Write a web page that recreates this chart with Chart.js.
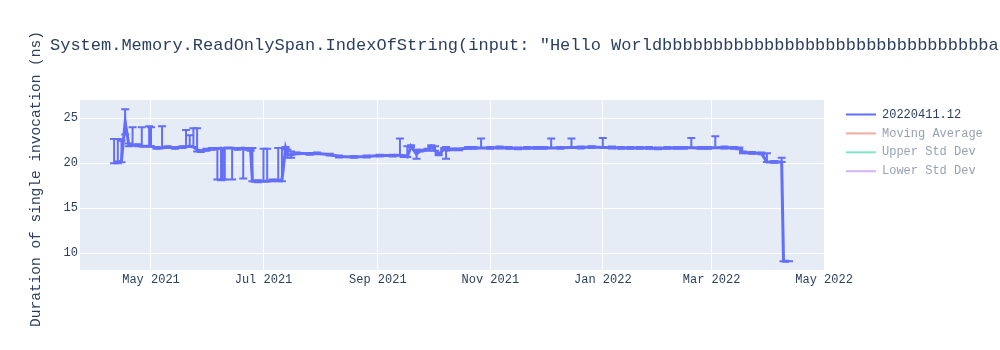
<!DOCTYPE html>
<html>
<head>
<meta charset="utf-8">
<script src="https://cdn.jsdelivr.net/npm/chart.js@4.4.1/dist/chart.umd.min.js"></script>
<style>
  html, body { margin: 0; padding: 0; background: #fff; }
  #wrap { position: relative; width: 1000px; height: 350px; overflow: hidden; }
  #title { position: absolute; left: 50px; top: 36px; height: 20px; line-height: 20px; font: 17px "Liberation Mono", monospace; color: #2a3f5f; white-space: pre; }
</style>
</head>
<body>
<div id="wrap">
  <canvas id="chart" width="1000" height="350"></canvas>
  <div id="title"></div>
</div>
<script>
// benchmark runs (build 20220411.12)
const chartTitle = 'System.Memory.ReadOnlySpan.IndexOfString(input: "Hello World' + 'b'.repeat(32) + 'a';
const yTitle = 'Duration of single invocation (ns)';
const seriesNames = ['20220411.12', 'Moving Average', 'Upper Std Dev', 'Lower Std Dev'];
const seriesColors = ['#636efa', '#EF553B', '#00cc96', '#ab63fa'];

const runDates = [
  '2021-04-11', '2021-04-13', '2021-04-15', '2021-04-17', '2021-04-19', '2021-04-21', '2021-04-24', '2021-04-26',
  '2021-04-30', '2021-05-01', '2021-05-04', '2021-05-07', '2021-05-10', '2021-05-14', '2021-05-18', '2021-05-20',
  '2021-05-22', '2021-05-24', '2021-05-26', '2021-05-28', '2021-05-31', '2021-06-03', '2021-06-06', '2021-06-08',
  '2021-06-09', '2021-06-10', '2021-06-14', '2021-06-17', '2021-06-20', '2021-06-22', '2021-06-24', '2021-06-25',
  '2021-06-28', '2021-07-01', '2021-07-03', '2021-07-06', '2021-07-09', '2021-07-11', '2021-07-13', '2021-07-14',
  '2021-07-16', '2021-07-19', '2021-07-26', '2021-07-30', '2021-08-06', '2021-08-11', '2021-08-19', '2021-08-26',
  '2021-09-02', '2021-09-09', '2021-09-13', '2021-09-15', '2021-09-17', '2021-09-19', '2021-09-22', '2021-09-24',
  '2021-09-28', '2021-09-30', '2021-10-02', '2021-10-04', '2021-10-07', '2021-10-08', '2021-10-11', '2021-10-15',
  '2021-10-20', '2021-10-23', '2021-10-27', '2021-11-01', '2021-11-06', '2021-11-11', '2021-11-16', '2021-11-21',
  '2021-11-26', '2021-11-30', '2021-12-04', '2021-12-09', '2021-12-15', '2021-12-20', '2021-12-26', '2022-01-01',
  '2022-01-06', '2022-01-11', '2022-01-16', '2022-01-21', '2022-01-26', '2022-01-31', '2022-02-05', '2022-02-10',
  '2022-02-14', '2022-02-18', '2022-02-23', '2022-02-27', '2022-03-03', '2022-03-08', '2022-03-13', '2022-03-16',
  '2022-03-18', '2022-03-23', '2022-03-28', '2022-03-31', '2022-04-04', '2022-04-08', '2022-04-09', '2022-04-12'
];
const durations = [
  20.2, 20.1, 20.3, 24.6, 22.0, 22.0, 22.0, 21.9,
  21.9, 21.9, 21.7, 21.7, 21.8, 21.7, 21.8, 21.8,
  21.9, 21.8, 21.5, 21.35, 21.5, 21.6, 21.6, 21.7,
  21.6, 21.7, 21.7, 21.6, 21.7, 21.6, 21.5, 18.0,
  18.0, 18.0, 18.0, 18.1, 18.1, 18.1, 21.7, 21.0,
  20.9, 21.1, 21.05, 21.1, 20.95, 20.75, 20.7, 20.75,
  20.85, 20.85, 20.9, 20.8, 20.7, 21.9, 21.0, 21.4,
  21.5, 21.9, 21.4, 21.0, 21.6, 21.4, 21.55, 21.55,
  21.7, 21.7, 21.7, 21.7, 21.75, 21.7, 21.65, 21.7,
  21.7, 21.72, 21.7, 21.72, 21.75, 21.75, 21.8, 21.75,
  21.75, 21.7, 21.7, 21.7, 21.7, 21.65, 21.7, 21.7,
  21.72, 21.72, 21.7, 21.7, 21.72, 21.75, 21.7, 21.65,
  21.2, 21.15, 21.1, 20.15, 20.15, 20.15, 9.1, 9.1
];
const errPlus = [
  2.5, 2.6, 2.2, 1.4, 0.2, 2.0, 0.1, 2.1,
  2.2, 2.1, 0.1, 2.4, 0.1, 0.1, 0.1, 1.9,
  1.2, 2.1, 2.4, 0.1, 0.1, 0.1, 0.1, 0.0,
  0.1, 0.0, 0.0, 0.1, 0.0, 0.1, 0.1, 3.7,
  0.1, 3.6, 3.6, 0.1, 3.6, 3.6, 0.1, 0.5,
  0.4, 0.1, 0.1, 0.1, 0.1, 0.1, 0.1, 0.1,
  0.1, 0.1, 1.85, 0.1, 1.2, 0.1, 0.5, 0.1,
  0.1, 0.1, 0.5, 0.1, 0.1, 0.4, 0.1, 0.1,
  0.1, 0.1, 1.05, 0.1, 0.1, 0.1, 0.1, 0.1,
  0.1, 0.1, 1.05, 0.1, 1.0, 0.1, 0.1, 1.05,
  0.1, 0.1, 0.1, 0.1, 0.1, 0.1, 0.1, 0.1,
  0.1, 1.08, 0.1, 0.1, 1.28, 0.1, 0.1, 0.1,
  0.1, 0.1, 0.1, 0.95, 0.1, 0.45, 0.0, 0.0
];
const errMinus = [
  0.2, 0.1, 0.2, 1.4, 0.1, 0.0, 0.1, 0.0,
  0.0, 0.0, 0.1, 0.0, 0.1, 0.1, 0.1, 0.0,
  0.0, 0.0, 0.2, 0.1, 0.1, 0.1, 3.4, 3.6,
  3.4, 3.5, 3.5, 0.1, 3.4, 0.1, 0.1, 0.0,
  0.1, 0.0, 0.0, 0.1, 0.1, 0.1, 0.1, 0.4,
  0.3, 0.1, 0.1, 0.1, 0.1, 0.1, 0.1, 0.1,
  0.1, 0.1, 0.0, 0.1, 0.0, 0.1, 0.5, 0.1,
  0.1, 0.1, 0.0, 0.1, 0.1, 0.9, 0.1, 0.1,
  0.1, 0.1, 0.0, 0.1, 0.1, 0.1, 0.1, 0.1,
  0.1, 0.1, 0.0, 0.1, 0.0, 0.1, 0.1, 0.0,
  0.1, 0.1, 0.1, 0.1, 0.1, 0.1, 0.1, 0.1,
  0.1, 0.0, 0.1, 0.1, 0.0, 0.1, 0.1, 0.1,
  0.1, 0.1, 0.1, 0.0, 0.1, 0.0, 0.0, 0.0
];

const xTickDates = ['2021-05-01', '2021-07-01', '2021-09-01', '2021-11-01', '2022-01-01', '2022-03-01', '2022-05-01'];
const yTicks = [10, 15, 20, 25];
const xRange = ['2021-03-23T12:00', '2022-05-01T12:00'];
const yRange = [8.14, 27.03];
const MONTHS = ['Jan', 'Feb', 'Mar', 'Apr', 'May', 'Jun', 'Jul', 'Aug', 'Sep', 'Oct', 'Nov', 'Dec'];

const toMs = s => Date.parse(s.length === 10 ? s + 'T00:00:00Z' : s + ':00Z');
const INK = '#2a3f5f';
const CAP = 4;

document.getElementById('title').textContent = chartTitle;

const plotBg = {
  id: 'plotBg',
  beforeDraw(chart) {
    const { ctx, chartArea: a } = chart;
    ctx.save();
    ctx.fillStyle = '#E5ECF6';
    ctx.fillRect(a.left, a.top, a.right - a.left, a.bottom - a.top);
    ctx.restore();
  }
};

// plotly-style error bars, drawn from the arrays through the scales
const errorBars = {
  id: 'errorBars',
  afterDatasetDraw(chart, args) {
    if (args.index !== 0) return;
    const { ctx, chartArea: a, scales: { x, y } } = chart;
    ctx.save();
    ctx.beginPath();
    ctx.rect(a.left, a.top, a.right - a.left, a.bottom - a.top);
    ctx.clip();
    ctx.strokeStyle = seriesColors[0];
    ctx.lineWidth = 2;
    runDates.forEach((d, i) => {
      const px = x.getPixelForValue(toMs(d));
      const top = y.getPixelForValue(durations[i] + errPlus[i]);
      const bot = y.getPixelForValue(durations[i] - errMinus[i]);
      ctx.beginPath();
      ctx.moveTo(px, top); ctx.lineTo(px, bot);
      ctx.moveTo(px - CAP, top); ctx.lineTo(px + CAP, top);
      ctx.moveTo(px - CAP, bot); ctx.lineTo(px + CAP, bot);
      ctx.stroke();
    });
    ctx.restore();
  }
};

// y axis title, legend at the right (plotly layout)
const sideText = {
  id: 'sideText',
  afterDraw(chart) {
    const { ctx, chartArea: a } = chart;
    ctx.save();
    ctx.fillStyle = INK;
    ctx.font = '14.5px "Liberation Mono", monospace';
    ctx.textAlign = 'center';
    ctx.textBaseline = 'middle';
    ctx.translate(36, (a.top + a.bottom) / 2 - 6);
    ctx.rotate(-Math.PI / 2);
    ctx.fillText(yTitle, 0, 0);
    ctx.restore();

    ctx.save();
    ctx.font = '12px "Liberation Mono", monospace';
    ctx.textBaseline = 'middle';
    chart.data.datasets.forEach((ds, i) => {
      const yy = a.top + 14.5 + i * 18.9;
      const x0 = a.right + 21;
      ctx.globalAlpha = chart.isDatasetVisible(i) ? 1 : 0.5;
      ctx.strokeStyle = ds.borderColor;
      ctx.lineWidth = 2;
      ctx.beginPath(); ctx.moveTo(x0, yy); ctx.lineTo(x0 + 30, yy); ctx.stroke();
      ctx.fillStyle = INK;
      ctx.fillText(ds.label, x0 + 36, yy);
    });
    ctx.restore();
  }
};

Chart.defaults.font.family = '"Liberation Mono", monospace';
Chart.defaults.font.size = 12;
Chart.defaults.color = INK;

new Chart(document.getElementById('chart'), {
  type: 'line',
  data: {
    datasets: seriesNames.map((name, i) => ({
      label: name,
      data: i === 0 ? runDates.map((d, k) => ({ x: toMs(d), y: durations[k] })) : [],
      borderColor: seriesColors[i],
      borderWidth: 3,
      pointRadius: 0,
      tension: 0,
      hidden: i !== 0,
    }))
  },
  options: {
    responsive: false,
    animation: false,
    devicePixelRatio: 1,
    layout: { padding: { top: 100, right: 175, left: 0, bottom: 0 } },
    plugins: { legend: { display: false }, title: { display: false }, tooltip: { enabled: false } },
    scales: {
      x: {
        type: 'linear',
        min: toMs(xRange[0]),
        max: toMs(xRange[1]),
        afterBuildTicks: s => { s.ticks = xTickDates.map(d => ({ value: toMs(d) })); },
        afterFit: s => { s.height = 80; },
        ticks: {
          autoSkip: false, maxRotation: 0, padding: 3,
          callback: v => { const d = new Date(v); return MONTHS[d.getUTCMonth()] + ' ' + d.getUTCFullYear(); }
        },
        grid: { color: '#ffffff', lineWidth: 1, drawTicks: false },
        border: { display: false }
      },
      y: {
        min: yRange[0],
        max: yRange[1],
        afterBuildTicks: s => { s.ticks = yTicks.map(v => ({ value: v })); },
        afterFit: s => { s.width = 80; },
        ticks: { padding: 2 },
        grid: { color: '#ffffff', lineWidth: 1, drawTicks: false },
        border: { display: false }
      }
    }
  },
  plugins: [plotBg, errorBars, sideText]
});
</script>
</body>
</html>
